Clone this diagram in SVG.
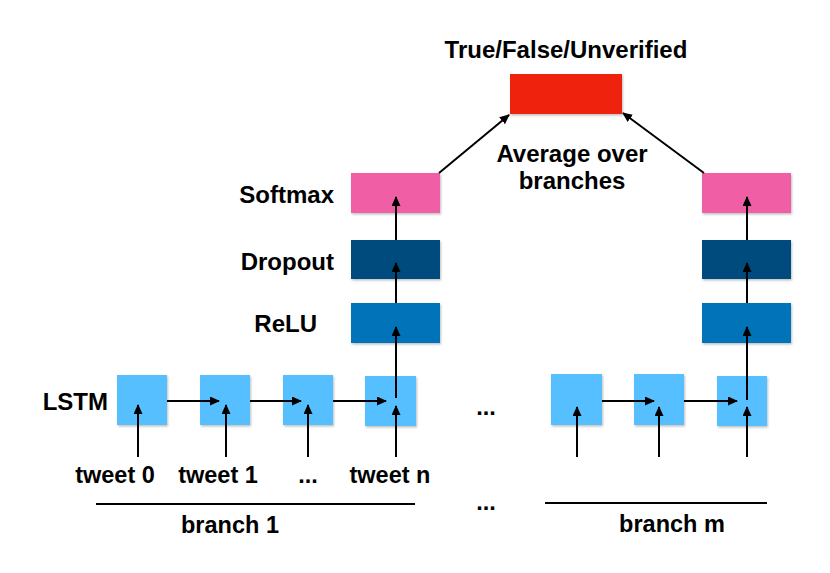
<svg xmlns="http://www.w3.org/2000/svg" width="830" height="573" viewBox="0 0 830 573">
<defs>
<marker id="ah" markerWidth="10" markerHeight="10" refX="9" refY="4.5" orient="auto" markerUnits="userSpaceOnUse">
<path d="M0,0 L10,4.5 L0,9 Z" fill="#000"/>
</marker>
<filter id="sh" x="-10%" y="-10%" width="125%" height="130%">
<feDropShadow dx="1" dy="1.5" stdDeviation="1" flood-color="#000" flood-opacity="0.25"/>
</filter>
<style>
text{font-family:"Liberation Sans",Arial,sans-serif;font-weight:bold;fill:#000}
.big{font-size:24px}
.lbl{font-size:23.5px}
.red{fill:#EE2211;filter:url(#sh)}
.pink{fill:#F05FA6;filter:url(#sh)}
.dark{fill:#004B7D;filter:url(#sh)}
.blue{fill:#0073B9;filter:url(#sh)}
.cell{fill:#55BFFF;filter:url(#sh)}
.c{stroke:#000;stroke-width:2;fill:none;marker-end:url(#ah)}
.ln{stroke:#000;stroke-width:2;fill:none}
</style>
</defs>
<rect width="830" height="573" fill="#fff"/>
<g id="output">
<rect class="red" x="510" y="74" width="112" height="40"/>
<text class="big" x="566" y="58" text-anchor="middle">True/False/Unverified</text>
</g>
<g id="avg-label">
<text class="big" x="572" y="162" text-anchor="middle">Average over</text>
<text class="big" x="572" y="189" text-anchor="middle">branches</text>
</g>
<g id="softmax-1"><rect class="pink" x="351" y="173" width="89" height="40"/><text class="big" x="334" y="203" text-anchor="end">Softmax</text></g>
<g id="dropout-1"><rect class="dark" x="351" y="240" width="89" height="39"/><text class="big" x="334" y="270" text-anchor="end">Dropout</text></g>
<g id="relu-1"><rect class="blue" x="351" y="303" width="89" height="40"/><text class="big" x="317" y="332" text-anchor="end">ReLU</text></g>
<g id="softmax-m"><rect class="pink" x="702" y="173" width="89" height="40"/></g>
<g id="dropout-m"><rect class="dark" x="702" y="240" width="89" height="39"/></g>
<g id="relu-m"><rect class="blue" x="702" y="303" width="89" height="40"/></g>
<g id="lstm-label"><text class="big" x="108" y="410" text-anchor="end">LSTM</text></g>
<g id="cell-1-0"><rect class="cell" x="117" y="375" width="50" height="50"/></g>
<g id="cell-1-1"><rect class="cell" x="200" y="375" width="50" height="50"/></g>
<g id="cell-1-2"><rect class="cell" x="283" y="375" width="50" height="50"/></g>
<g id="cell-1-n"><rect class="cell" x="365" y="376" width="51" height="50"/></g>
<g id="cell-m-0"><rect class="cell" x="551" y="374" width="51" height="51"/></g>
<g id="cell-m-1"><rect class="cell" x="634" y="374" width="50" height="51"/></g>
<g id="cell-m-n"><rect class="cell" x="717" y="376" width="50" height="50"/></g>
<g id="tweet-labels">
<text class="lbl" x="115" y="483" text-anchor="middle">tweet 0</text>
<text class="lbl" x="218" y="483" text-anchor="middle">tweet 1</text>
<text class="lbl" x="308" y="483" text-anchor="middle">...</text>
<text class="lbl" x="390" y="483" text-anchor="middle">tweet n</text>
</g>
<g id="dots">
<text class="lbl" x="486" y="415" text-anchor="middle">...</text>
<text class="lbl" x="486" y="510" text-anchor="middle">...</text>
</g>
<g id="branch-1"><line class="ln" x1="96" y1="504" x2="415" y2="504"/><text class="lbl" x="230" y="533" text-anchor="middle">branch 1</text></g>
<g id="branch-m"><line class="ln" x1="545" y1="503" x2="767" y2="503"/><text class="lbl" x="672" y="532" text-anchor="middle">branch m</text></g>
<g id="connectors">
<line class="c" x1="138" y1="457" x2="138" y2="405"/>
<line class="c" x1="226" y1="457" x2="226" y2="405"/>
<line class="c" x1="308" y1="457" x2="308" y2="405"/>
<line class="c" x1="396" y1="457" x2="396" y2="406"/>
<line class="c" x1="167" y1="401" x2="219" y2="401"/>
<line class="c" x1="250" y1="401" x2="301" y2="401"/>
<line class="c" x1="333" y1="401" x2="386" y2="401"/>
<line class="c" x1="396" y1="398" x2="396" y2="327"/>
<line class="c" x1="396" y1="303" x2="396" y2="263"/>
<line class="c" x1="396" y1="240" x2="396" y2="197"/>
<line class="c" x1="577" y1="457" x2="577" y2="407"/>
<line class="c" x1="659" y1="457" x2="659" y2="407"/>
<line class="c" x1="747" y1="457" x2="747" y2="407"/>
<line class="c" x1="602" y1="401" x2="654" y2="401"/>
<line class="c" x1="684" y1="401" x2="737" y2="401"/>
<line class="c" x1="747" y1="400" x2="747" y2="327"/>
<line class="c" x1="747" y1="303" x2="747" y2="263"/>
<line class="c" x1="747" y1="240" x2="747" y2="197"/>
<line class="c" x1="439" y1="173" x2="509" y2="115"/>
<line class="c" x1="704" y1="173" x2="623" y2="113"/>
</g>
</svg>
